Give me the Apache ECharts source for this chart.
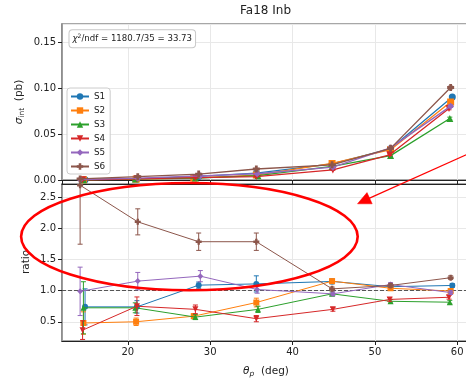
<!DOCTYPE html>
<html><head><meta charset="utf-8">
<script src="https://cdn.jsdelivr.net/npm/echarts@6/dist/echarts.min.js"></script>
<style>html,body{margin:0;padding:0;background:#fff}#c{width:466px;height:379px}</style>
</head><body><div id="c"></div>
<script>
const seriesNames = ['S1','S2','S3','S4','S5','S6'];

const thetaS1 = [14.8, 21.1, 28.6, 35.6, 44.8, 51.9, 59.4];
const thetaS2 = [14.6, 21.0, 28.0, 35.6, 44.8, 51.9, 59.2];
const thetaS3 = [14.6, 20.9, 28.2, 35.8, 44.8, 51.9, 59.1];
const thetaS4 = [14.5, 21.1, 28.2, 35.6, 44.9, 51.8, 59.0];
const thetaS5 = [14.2, 21.2, 28.8, 35.7, 44.9, 51.9, 59.2];
const thetaS6 = [14.2, 21.2, 28.6, 35.6, 44.8, 51.9, 59.2];

const sigmaS1 = [0.0003, 0.0013, 0.0039, 0.0074, 0.0175, 0.0340, 0.0905];
const sigmaS2 = [0.0002, 0.0009, 0.0021, 0.0054, 0.0180, 0.0330, 0.0850];
const sigmaS3 = [0.0003, 0.0012, 0.0021, 0.0047, 0.0148, 0.0266, 0.0670];
const sigmaS4 = [0.0002, 0.0013, 0.0025, 0.0037, 0.0110, 0.0275, 0.0780];
const sigmaS5 = [0.00045, 0.0020, 0.0045, 0.0068, 0.0140, 0.0350, 0.0805];
const sigmaS6 = [0.0012, 0.0036, 0.0065, 0.0120, 0.0165, 0.0345, 0.1008];

const sigmaErrS1 = [0.0001, 0.0002, 0.0003, 0.0004, 0.0005, 0.0008, 0.0015];
const sigmaErrS2 = [0.0001, 0.0002, 0.0003, 0.0004, 0.0005, 0.0008, 0.0015];
const sigmaErrS3 = [0.0001, 0.0002, 0.0003, 0.0004, 0.0005, 0.0008, 0.0015];
const sigmaErrS4 = [0.0001, 0.0002, 0.0003, 0.0004, 0.0005, 0.0008, 0.0015];
const sigmaErrS5 = [0.0001, 0.0002, 0.0003, 0.0004, 0.0005, 0.0008, 0.0015];
const sigmaErrS6 = [0.0003, 0.0004, 0.0005, 0.0006, 0.0005, 0.0008, 0.0015];

const ratioS1 = [0.74, 0.74, 1.09, 1.11, 1.15, 1.065, 1.085];
const ratioS2 = [0.48, 0.50, 0.59, 0.81, 1.155, 1.04, 0.995];
const ratioS3 = [0.725, 0.725, 0.575, 0.70, 0.95, 0.83, 0.815];
const ratioS4 = [0.365, 0.75, 0.70, 0.55, 0.70, 0.86, 0.895];
const ratioS5 = [0.99, 1.155, 1.235, 1.02, 0.95, 1.10, 0.97];
const ratioS6 = [2.70, 2.11, 1.79, 1.79, 1.03, 1.085, 1.21];

const ratioErrS1 = [0.29, 0.10, 0.05, 0.13, 0.04, 0.03, 0.03];
const ratioErrS2 = [0.18, 0.06, 0.04, 0.07, 0.03, 0.03, 0.03];
const ratioErrS3 = [0.42, 0.08, 0.04, 0.05, 0.03, 0.03, 0.03];
const ratioErrS4 = [0.15, 0.15, 0.07, 0.05, 0.03, 0.03, 0.03];
const ratioErrS5 = [0.39, 0.14, 0.09, 0.06, 0.03, 0.03, 0.03];
const ratioErrS6 = [0.95, 0.21, 0.14, 0.14, 0.03, 0.03, 0.03];

const thetas = [thetaS1, thetaS2, thetaS3, thetaS4, thetaS5, thetaS6];
const sigmas = [sigmaS1, sigmaS2, sigmaS3, sigmaS4, sigmaS5, sigmaS6];
const sigmaErrs = [sigmaErrS1, sigmaErrS2, sigmaErrS3, sigmaErrS4, sigmaErrS5, sigmaErrS6];
const ratios = [ratioS1, ratioS2, ratioS3, ratioS4, ratioS5, ratioS6];
const ratioErrs = [ratioErrS1, ratioErrS2, ratioErrS3, ratioErrS4, ratioErrS5, ratioErrS6];

const colors = ['#1f77b4','#ff7f0e','#2ca02c','#d62728','#9467bd','#8c564b'];
const symbols = ['circle','rect','triangle','triangle','diamond','path://M3,0H7V3H10V7H7V10H3V7H0V3H3Z'];
const rotations = [0,0,0,180,0,0];
const FONT = 'DejaVu Sans';
const TXT = '#222';

function errRender(color) {
  return function (params, api) {
    const x = api.value(0), y = api.value(1), e = api.value(2);
    const cs = params.coordSys;
    const top = cs.y, bot = cs.y + cs.height;
    const lo = api.coord([x, y - e]), hi = api.coord([x, y + e]);
    const px = lo[0];
    const y1 = Math.min(lo[1], bot), y2 = Math.max(hi[1], top);
    const st = { stroke: color, lineWidth: 1 };
    const ch = [{ type: 'line', shape: { x1: px, y1: y1, x2: px, y2: y2 }, style: st }];
    if (lo[1] <= bot) ch.push({ type: 'line', shape: { x1: px - 2.5, y1: lo[1], x2: px + 2.5, y2: lo[1] }, style: st });
    if (hi[1] >= top) ch.push({ type: 'line', shape: { x1: px - 2.5, y1: hi[1], x2: px + 2.5, y2: hi[1] }, style: st });
    return { type: 'group', children: ch };
  };
}

const series = [];
for (let i = 0; i < 6; i++) {
  const top = thetas[i].map((t, k) => [t, sigmas[i][k]]);
  const topE = thetas[i].map((t, k) => [t, sigmas[i][k], sigmaErrs[i][k]]);
  const bot = thetas[i].map((t, k) => [t, ratios[i][k]]);
  const botE = thetas[i].map((t, k) => [t, ratios[i][k], ratioErrs[i][k]]);
  series.push({
    type: 'custom', name: seriesNames[i] + '_e1', xAxisIndex: 0, yAxisIndex: 0,
    data: topE, encode: { x: 0, y: 1 }, renderItem: errRender(colors[i]), z: 2 + i, silent: true
  });
  series.push({
    type: 'line', name: seriesNames[i], xAxisIndex: 0, yAxisIndex: 0, data: top,
    symbol: symbols[i], symbolRotate: rotations[i], symbolSize: 7, showAllSymbol: true,
    itemStyle: { color: colors[i] }, lineStyle: { color: colors[i], width: 1.3 }, z: 2 + i
  });
  series.push({
    type: 'custom', name: seriesNames[i] + '_e2', xAxisIndex: 1, yAxisIndex: 1,
    data: botE, encode: { x: 0, y: 1 }, renderItem: errRender(colors[i]), z: 2 + i, silent: true
  });
  const s = {
    type: 'line', name: seriesNames[i], xAxisIndex: 1, yAxisIndex: 1, data: bot,
    symbol: symbols[i], symbolRotate: rotations[i], symbolSize: 6, showAllSymbol: true,
    itemStyle: { color: colors[i] }, lineStyle: { color: colors[i], width: 1 }, z: 2 + i
  };
  if (i === 0) {
    s.markLine = {
      silent: true, symbol: 'none', label: { show: false },
      lineStyle: { color: '#555', width: 1, type: [4, 2] },
      data: [{ yAxis: 1 }], z: 1
    };
  }
  series.push(s);
}

const gridLine = { show: true, lineStyle: { color: '#e8e8e8', width: 1 } };

const option = {
  animation: false,
  backgroundColor: '#fff',
  textStyle: { fontFamily: FONT },
  grid: [
    { left: 62, width: 408, top: 24, height: 156, outerBoundsMode: 'none', containLabel: false, show: true, borderColor: '#8a8a8a', borderWidth: 1.6, backgroundColor: 'transparent' },
    { left: 62, width: 408, top: 184, height: 157, outerBoundsMode: 'none', containLabel: false, show: true, borderColor: '#8a8a8a', borderWidth: 1.6, backgroundColor: 'transparent' }
  ],
  xAxis: [
    { type: 'value', gridIndex: 0, min: 12, max: 61.55, splitNumber: 5,
      axisLine: { show: true, onZero: false, lineStyle: { color: '#222', width: 1.2 } },
      axisTick: { show: true, length: 4, lineStyle: { color: '#222' } },
      axisLabel: { show: false }, splitLine: gridLine },
    { type: 'value', gridIndex: 1, min: 12, max: 61.55, splitNumber: 5,
      axisLine: { show: true, onZero: false, lineStyle: { color: '#222', width: 1.2 } },
      axisTick: { show: true, length: 4, lineStyle: { color: '#222' } },
      axisLabel: { show: true, showMinLabel: false, showMaxLabel: false, fontSize: 10, color: TXT, fontFamily: FONT, margin: 6 },
      splitLine: gridLine },
    { type: 'value', gridIndex: 1, position: 'top', min: 12, max: 61.55,
      axisLine: { show: true, onZero: false, lineStyle: { color: '#222', width: 1.2 } },
      axisTick: { show: false }, axisLabel: { show: false }, splitLine: { show: false } }
  ],
  yAxis: [
    { type: 'value', gridIndex: 0, min: 0, max: 0.17, interval: 0.05,
      axisLine: { show: true, onZero: false, lineStyle: { color: '#8a8a8a', width: 1.6 } },
      axisTick: { show: true, length: 4, lineStyle: { color: '#222' } },
      axisLabel: { fontSize: 10, color: TXT, fontFamily: FONT, margin: 6, showMaxLabel: false,
        formatter: v => v.toFixed(2) },
      splitLine: gridLine },
    { type: 'value', gridIndex: 1, min: 0.19, max: 2.72, splitNumber: 5,
      axisLine: { show: true, onZero: false, lineStyle: { color: '#8a8a8a', width: 1.6 } },
      axisTick: { show: true, length: 4, lineStyle: { color: '#222' } },
      axisLabel: { fontSize: 10, color: TXT, fontFamily: FONT, margin: 6, showMinLabel: false, showMaxLabel: false,
        formatter: v => v.toFixed(1) },
      splitLine: gridLine }
  ],
  legend: {
    data: seriesNames, orient: 'vertical', left: 67, top: 88,
    itemWidth: 18, itemHeight: 8, itemGap: 5,
    padding: [4, 5, 3, 3],
    backgroundColor: 'rgba(255,255,255,0.85)', borderColor: '#cccccc', borderWidth: 1, borderRadius: 3,
    textStyle: { fontSize: 8.8, color: TXT, fontFamily: FONT },
    selectedMode: false
  },
  graphic: [
    { type: 'text', left: 240, top: 5, style: { text: 'Fa18 Inb', fontSize: 12, fill: TXT, fontFamily: FONT } },
    { type: 'text', x: 69.5, y: 38.8, z: 50,
      style: {
        text: '{c|χ}{s|2}{n|/ndf = 1180.7/35 = 33.73}',
        verticalAlign: 'middle', align: 'left',
        backgroundColor: '#fff', borderColor: '#c8c8c8', borderWidth: 1, borderRadius: 3, padding: [3, 3, 3, 3],
        rich: {
          c: { fontSize: 8.6, fontStyle: 'italic', fill: TXT, fontFamily: FONT, lineHeight: 11 },
          s: { fontSize: 6, fill: TXT, fontFamily: FONT, verticalAlign: 'top', lineHeight: 11 },
          n: { fontSize: 8.6, fill: TXT, fontFamily: FONT, lineHeight: 11 }
        }
      } },
    { type: 'text', x: 19, y: 102, rotation: Math.PI / 2,
      style: {
        text: '{i|σ}{s|int}{n|  (pb)}', align: 'center', verticalAlign: 'middle',
        rich: {
          i: { fontSize: 10.5, fontStyle: 'italic', fill: TXT, fontFamily: FONT, lineHeight: 14 },
          s: { fontSize: 7.5, fill: TXT, fontFamily: FONT, verticalAlign: 'bottom', lineHeight: 14 },
          n: { fontSize: 10.5, fill: TXT, fontFamily: FONT, lineHeight: 14 }
        }
      } },
    { type: 'text', x: 26, y: 262, rotation: Math.PI / 2,
      style: { text: 'ratio', align: 'center', verticalAlign: 'middle', fontSize: 10.5, fill: TXT, fontFamily: FONT } },
    { type: 'text', x: 266, y: 371,
      style: {
        text: '{i|θ}{s|p}{n|  (deg)}', align: 'center', verticalAlign: 'middle',
        rich: {
          i: { fontSize: 10.5, fontStyle: 'italic', fill: TXT, fontFamily: FONT, lineHeight: 14 },
          s: { fontSize: 7.5, fontStyle: 'italic', fill: TXT, fontFamily: FONT, verticalAlign: 'bottom', lineHeight: 14 },
          n: { fontSize: 10.5, fill: TXT, fontFamily: FONT, lineHeight: 14 }
        }
      } },
    { type: 'ellipse', z: 100, shape: { cx: 189.4, cy: 236.6, rx: 168.3, ry: 53.6 },
      style: { fill: 'none', stroke: '#ff0000', lineWidth: 2.6 } },
    { type: 'line', z: 100, shape: { x1: 480, y1: 148.6, x2: 369, y2: 198.4 },
      style: { stroke: '#ff0000', lineWidth: 1.2 } },
    { type: 'polygon', z: 100, shape: { points: [[357.5, 203.8], [372.2, 203.8], [367, 192.6]] },
      style: { fill: '#ff0000', stroke: '#ff0000', lineWidth: 0.5 } }
  ],
  series: series
};

const chart = echarts.init(document.getElementById('c'), null, { renderer: 'canvas' });
chart.setOption(option);
</script>
</body></html>
